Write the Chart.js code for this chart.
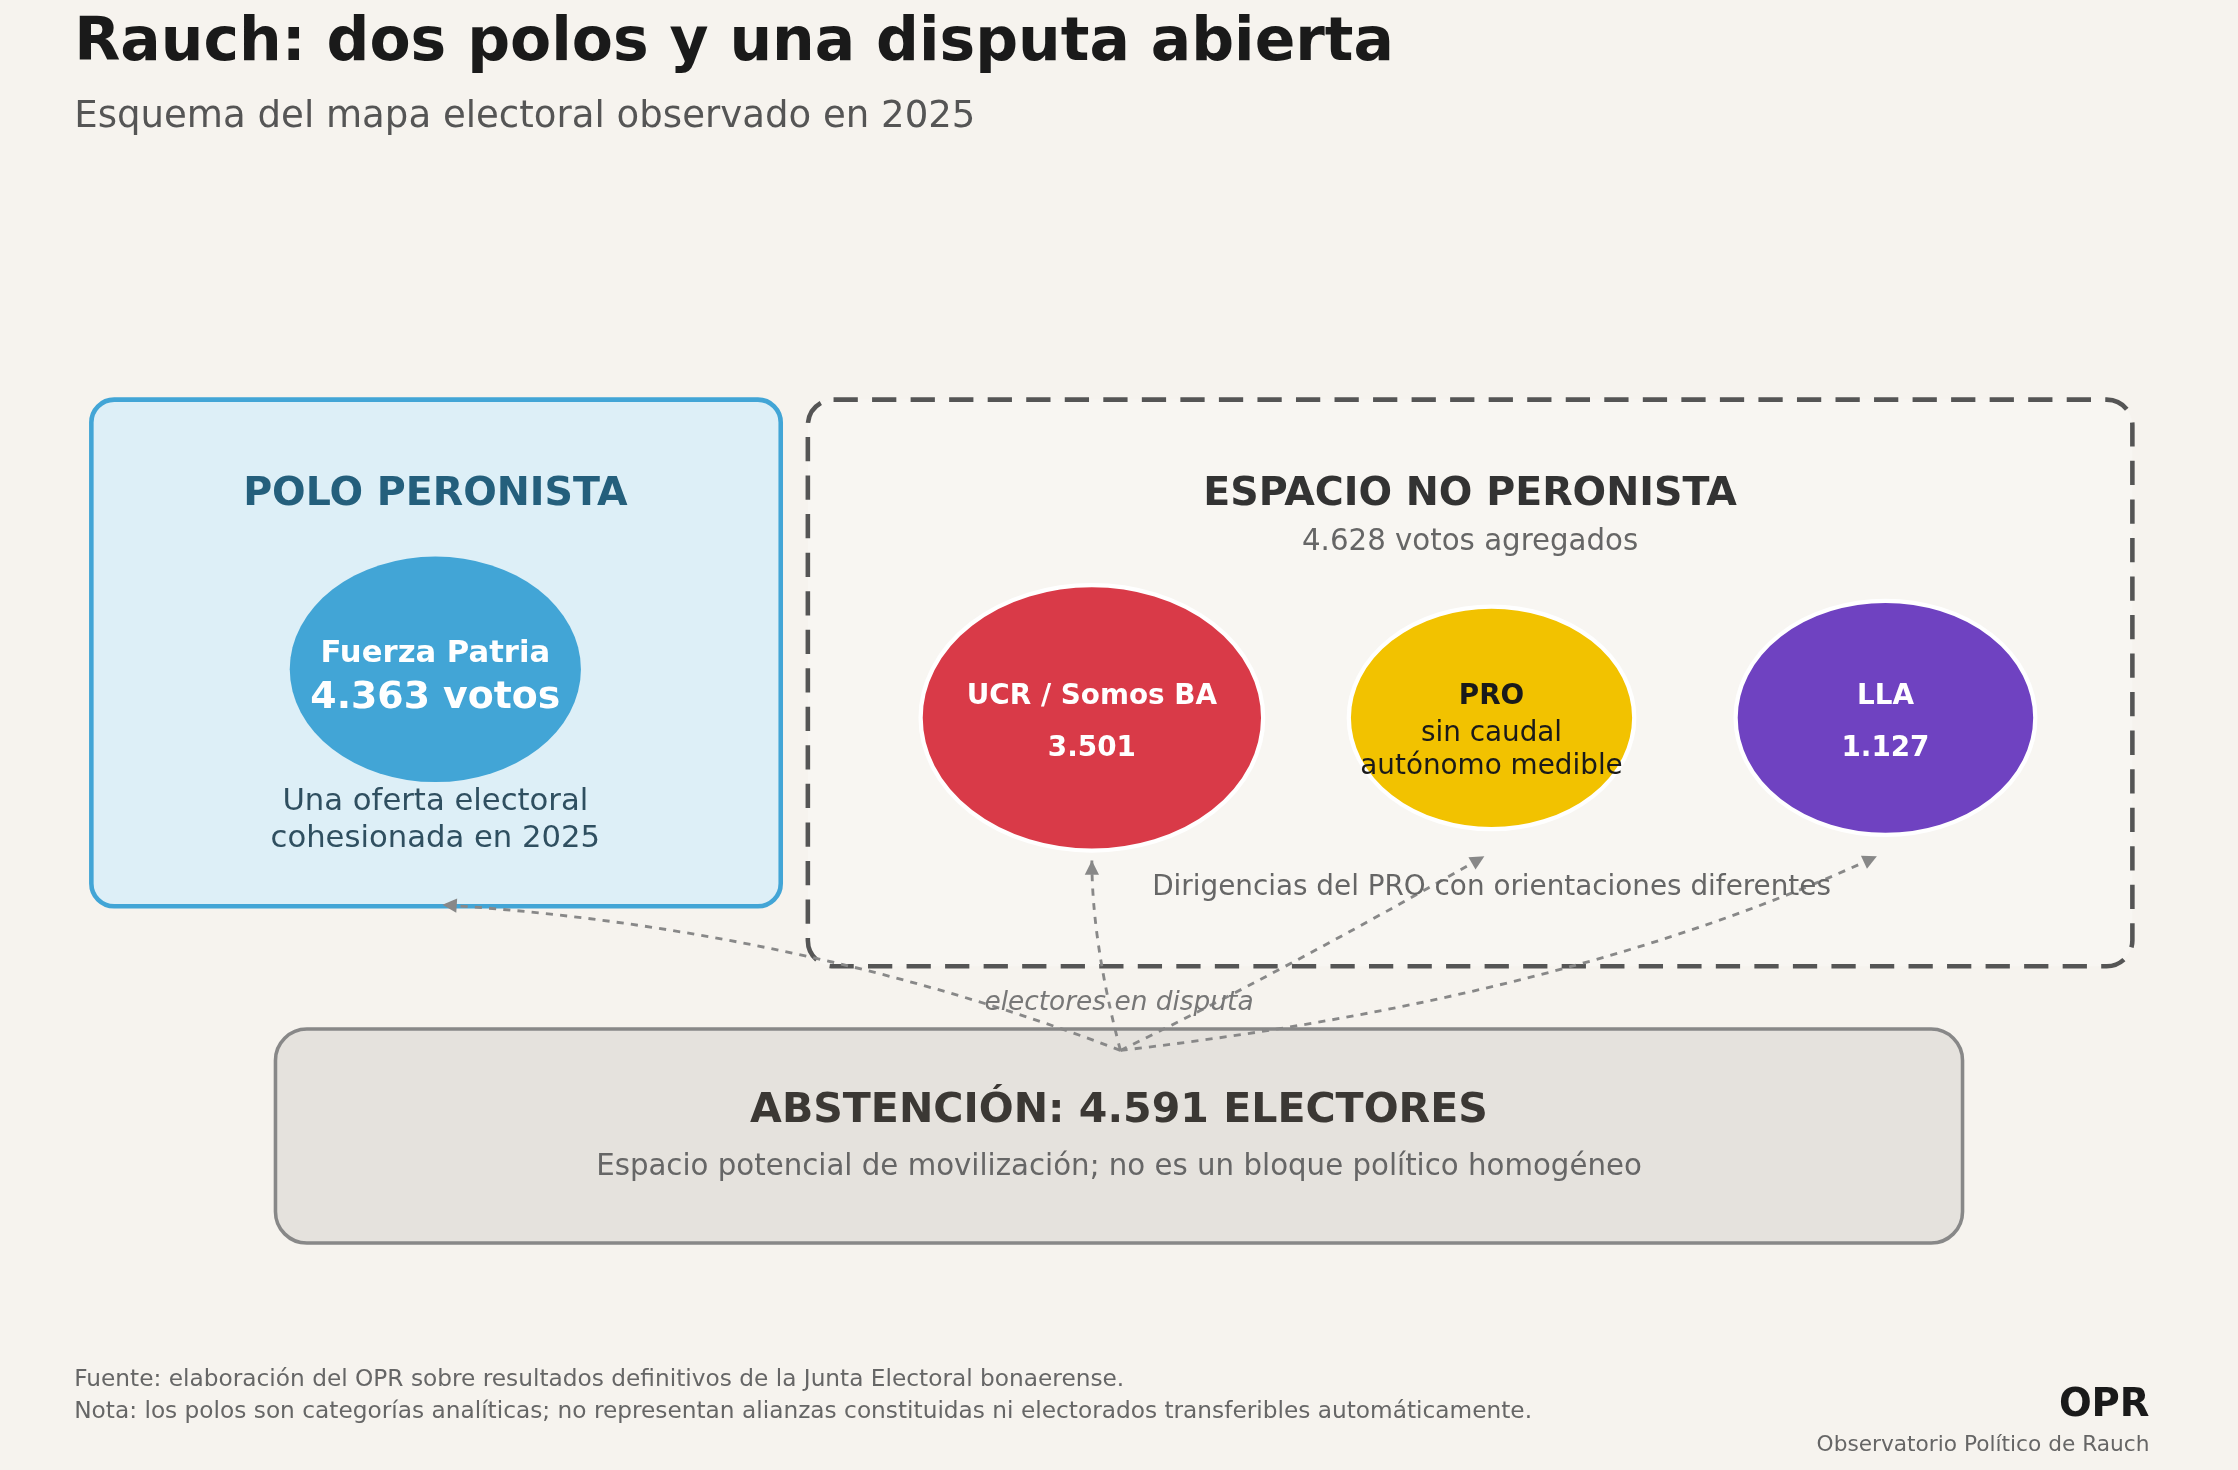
<!DOCTYPE html>
<html>
<head>
<meta charset="utf-8">
<script src="https://cdn.jsdelivr.net/npm/chart.js@4/dist/chart.umd.min.js"></script>
<style>
  html, body { margin: 0; padding: 0; background: #f6f3ee; }
  #wrap { width: 2238px; height: 1470px; }
</style>
</head>
<body>
<div id="wrap"><canvas id="mapa"></canvas></div>
<script>
// Espacio de referencia: 1568 x 1030
const W = 1568, H = 1030;
const FONT = '"DejaVu Sans", sans-serif';

const fuerzas = [
    { nombre: 'Fuerza Patria', votos: 4363, x: 305, y: 469, rx: 102, ry: 79, color: '#42a5d6', borde: null },
    { nombre: 'UCR / Somos BA', votos: 3501, x: 765, y: 503, rx: 120, ry: 93, color: '#d93a48', borde: '#ffffff' },
    { nombre: 'PRO', votos: null, x: 1045, y: 503, rx: 100, ry: 78, color: '#f2c200', borde: '#ffffff' },
    { nombre: 'LLA', votos: 1127, x: 1321, y: 503, rx: 105, ry: 82, color: '#6f42c1', borde: '#ffffff' },
];
const noPeronista = 4628;
const abstencion = 4591;
const origenFlechas = { x: 785, y: 736 };
const destinos = [
    { x: 310, y: 634, cx: 560, cy: 650 },
    { x: 765, y: 603, cx: 765, cy: 660 },
    { x: 1040, y: 600, cx: 900, cy: 680 },
    { x: 1315, y: 600, cx: 1100, cy: 700 },
];

const fmt = n => n.toLocaleString('es-AR');

const esquema = {
    id: 'esquema',
    beforeDatasetsDraw(chart) {
        const { ctx, scales: { x, y } } = chart;
        const s = chart.width / W;
        const px = v => x.getPixelForValue(v);
        const py = v => y.getPixelForValue(v);
        const caja = (x0, y0, x1, y1, r, fill, stroke, lw, dash) => {
            ctx.save();
            ctx.beginPath();
            ctx.roundRect(px(x0), py(y0), px(x1) - px(x0), py(y1) - py(y0), r * s);
            ctx.fillStyle = fill; ctx.fill();
            ctx.setLineDash(dash ? dash.map(d => d * s) : []);
            ctx.lineWidth = lw * s; ctx.strokeStyle = stroke; ctx.stroke();
            ctx.restore();
        };
        caja(64, 280, 547, 635, 16, '#ddeff7', '#42a5d6', 3.2, null);
        caja(566, 280, 1494, 677, 18, '#f8f6f2', '#555555', 3.2, [17, 10]);
        caja(193, 721, 1375, 871, 22, '#e5e2dd', '#888888', 2.5, null);

        // flechas punteadas
        ctx.save();
        ctx.strokeStyle = '#888'; ctx.fillStyle = '#888';
        ctx.lineWidth = 2 * s; ctx.setLineDash([5 * s, 5 * s]);
        destinos.forEach(d => {
            ctx.beginPath();
            ctx.moveTo(px(origenFlechas.x), py(origenFlechas.y));
            ctx.quadraticCurveTo(px(d.cx), py(d.cy), px(d.x), py(d.y));
            ctx.stroke();
            const ang = Math.atan2(py(d.y) - py(d.cy), px(d.x) - px(d.cx));
            ctx.save();
            ctx.setLineDash([]);
            ctx.translate(px(d.x), py(d.y)); ctx.rotate(ang);
            ctx.beginPath();
            ctx.moveTo(0, 0); ctx.lineTo(-10 * s, -5 * s); ctx.lineTo(-10 * s, 5 * s);
            ctx.closePath(); ctx.fill();
            ctx.restore();
        });
        ctx.restore();

        // elipses
        const meta = chart.getDatasetMeta(0);
        meta.data.forEach((pt, i) => {
            const f = fuerzas[i];
            ctx.save();
            ctx.beginPath();
            ctx.ellipse(pt.x, pt.y, f.rx * s, f.ry * s, 0, 0, Math.PI * 2);
            ctx.fillStyle = f.color; ctx.fill();
            if (f.borde) { ctx.lineWidth = 3 * s; ctx.strokeStyle = f.borde; ctx.stroke(); }
            ctx.restore();
        });
    },
    afterDatasetsDraw(chart) {
        const { ctx, scales: { x, y } } = chart;
        const s = chart.width / W;
        const px = v => x.getPixelForValue(v);
        const py = v => y.getPixelForValue(v);
        const texto = (t, tx, ty, size, color, opts = {}) => {
            ctx.save();
            ctx.font = `${opts.style || ''} ${opts.bold ? 'bold' : ''} ${size * s}px ${FONT}`;
            ctx.fillStyle = color;
            ctx.textAlign = opts.align || 'center';
            ctx.textBaseline = opts.base || 'middle';
            ctx.fillText(t, px(tx), py(ty));
            ctx.restore();
        };
        texto('Rauch: dos polos y una disputa abierta', 52, 31, 42, '#1a1a1a', { bold: true, align: 'left' });
        texto('Esquema del mapa electoral observado en 2025', 52, 82, 26, '#555', { align: 'left' });

        texto('POLO PERONISTA', 305, 347, 27.7, '#245f7c', { bold: true });
        texto(fuerzas[0].nombre, 305, 458, 21.5, '#fff', { bold: true });
        texto(fmt(fuerzas[0].votos) + ' votos', 305, 489, 26.5, '#fff', { bold: true });
        texto('Una oferta electoral', 305, 562, 21.5, '#2f4f60');
        texto('cohesionada en 2025', 305, 588, 21.5, '#2f4f60');

        texto('ESPACIO NO PERONISTA', 1030, 347, 27.7, '#333', { bold: true });
        texto(fmt(noPeronista) + ' votos agregados', 1030, 380, 20.5, '#666');
        [1, 3].forEach(i => {
            const f = fuerzas[i];
            texto(f.nombre, f.x, 488, 19.5, '#fff', { bold: true });
            texto(fmt(f.votos), f.x, 525, 19.5, '#fff', { bold: true });
        });
        texto('PRO', 1045, 488, 19.5, '#1a1a1a', { bold: true });
        texto('sin caudal', 1045, 514, 19.5, '#1a1a1a');
        texto('autónomo medible', 1045, 537, 19.5, '#1a1a1a');
        texto('Dirigencias del PRO con orientaciones diferentes', 1045, 622, 19.5, '#666');

        texto('electores en disputa', 784, 703, 18.5, '#777', { style: 'italic' });
        texto('ABSTENCIÓN: ' + fmt(abstencion) + ' ELECTORES', 784, 779, 28.8, '#3b3834', { bold: true });
        texto('Espacio potencial de movilización; no es un bloque político homogéneo', 784, 818, 20.5, '#666');

        texto('Fuente: elaboración del OPR sobre resultados definitivos de la Junta Electoral bonaerense.', 52, 967, 16.3, '#666', { align: 'left' });
        texto('Nota: los polos son categorías analíticas; no representan alianzas constituidas ni electorados transferibles automáticamente.', 52, 989, 16.3, '#666', { align: 'left' });
        texto('OPR', 1506, 985, 27, '#1a1a1a', { bold: true, align: 'right' });
        texto('Observatorio Político de Rauch', 1506, 1013, 15.2, '#666', { align: 'right' });
    }
};

const fondo = {
    id: 'fondo',
    beforeDraw(chart) {
        const { ctx } = chart;
        ctx.save();
        ctx.fillStyle = '#f6f3ee';
        ctx.fillRect(0, 0, chart.width, chart.height);
        ctx.restore();
    }
};

new Chart(document.getElementById('mapa').getContext('2d'), {
    type: 'scatter',
    data: {
        datasets: [{
            label: 'Fuerzas',
            data: fuerzas.map(f => ({ x: f.x, y: f.y })),
            pointRadius: 0,
            pointHoverRadius: 0,
        }]
    },
    options: {
        responsive: true,
        maintainAspectRatio: false,
        animation: false,
        layout: { padding: 0 },
        scales: {
            x: { type: 'linear', min: 0, max: W, display: false },
            y: { type: 'linear', min: 0, max: H, reverse: true, display: false }
        },
        plugins: { legend: { display: false }, tooltip: { enabled: false } }
    },
    plugins: [fondo, esquema]
});
</script>
</body>
</html>
